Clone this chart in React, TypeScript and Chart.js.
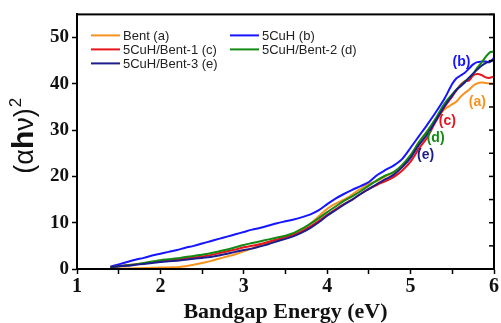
import React, { useEffect, useRef } from "react";
import { Chart, registerables } from "chart.js";

Chart.register(...registerables);

// Photon energy (eV)
const energy = [
  1.4, 1.5, 1.6, 1.7, 1.8, 1.9, 2.0, 2.1, 2.2, 2.3, 2.4, 2.5, 2.6, 2.7, 2.8, 2.9,
  3.0, 3.1, 3.2, 3.3, 3.4, 3.5, 3.6, 3.7, 3.8, 3.9, 4.0, 4.1, 4.2, 4.3, 4.4, 4.5,
  4.6, 4.7, 4.8, 4.9, 5.0, 5.1, 5.2, 5.3, 5.4, 5.5, 5.55, 5.6, 5.65, 5.7, 5.75,
  5.8, 5.85, 5.9, 5.95, 6.0,
];

// (αhν)² values per sample
const bentA = [
  0.1, 0.1, 0.1, 0.15, 0.2, 0.25, 0.3, 0.35, 0.4, 0.6, 0.9, 1.3, 1.7, 2.2, 2.7, 3.2,
  3.8, 4.5, 5.1, 5.6, 6.1, 6.7, 7.6, 8.6, 9.8, 11.4, 13.0, 14.1, 15.0, 16.1, 17.3, 18.4,
  19.0, 20.0, 20.9, 22.4, 24.6, 27.4, 29.8, 32.0, 34.4, 35.6, 36.2, 37.2, 38.0, 38.7, 39.6,
  40.1, 40.3, 40.2, 40.1, 40.0,
];
const cuhB = [
  0.5, 1.0, 1.5, 2.0, 2.4, 2.9, 3.3, 3.7, 4.1, 4.6, 5.0, 5.5, 6.0, 6.5, 7.0, 7.5,
  8.0, 8.5, 8.9, 9.4, 9.9, 10.3, 10.7, 11.2, 11.8, 12.7, 14.0, 15.2, 16.2, 17.1, 17.9, 18.8,
  20.3, 21.4, 22.4, 23.8, 26.2, 28.7, 31.2, 33.8, 36.6, 40.0, 41.2, 41.8, 42.4, 43.3, 44.2,
  44.7, 44.8, 44.8, 44.7, 45.6,
];
const cuhBent1C = [
  0.4, 0.6, 0.8, 1.0, 1.2, 1.5, 1.8, 2.0, 2.1, 2.3, 2.5, 2.7, 3.0, 3.4, 3.8, 4.2,
  4.7, 5.0, 5.4, 5.9, 6.4, 6.9, 7.4, 8.2, 9.2, 10.4, 11.7, 12.9, 14.0, 15.0, 16.2, 17.3,
  18.2, 19.0, 19.9, 21.3, 23.2, 26.0, 28.4, 31.8, 34.8, 37.3, 38.6, 39.8, 40.6, 40.7, 41.8,
  42.1, 41.9, 41.4, 41.3, 41.6,
];
const cuhBent2D = [
  0.4, 0.6, 0.8, 1.0, 1.3, 1.6, 1.9, 2.1, 2.3, 2.6, 2.8, 3.1, 3.4, 3.8, 4.2, 4.7,
  5.2, 5.6, 6.0, 6.4, 6.8, 7.2, 7.8, 8.7, 9.8, 11.0, 12.3, 13.5, 14.7, 15.7, 16.8, 18.0,
  19.2, 20.2, 21.0, 22.5, 24.6, 27.4, 29.8, 32.5, 35.6, 37.8, 38.8, 39.6, 40.5, 41.3, 42.2,
  43.5, 44.6, 45.8, 46.8, 47.0,
];
const cuhBent3E = [
  0.4, 0.6, 0.7, 0.9, 1.1, 1.3, 1.5, 1.7, 1.8, 2.0, 2.2, 2.4, 2.6, 2.9, 3.3, 3.7,
  4.1, 4.4, 4.9, 5.4, 6.0, 6.5, 7.1, 7.9, 8.9, 10.1, 11.5, 12.7, 13.9, 15.0, 16.2, 17.3,
  18.4, 19.4, 20.4, 22.0, 24.0, 26.8, 29.1, 32.0, 35.0, 37.5, 38.7, 39.5, 40.3, 41.3, 42.2,
  43.1, 43.9, 44.5, 44.9, 45.2,
];

const seriesLabels = ["Bent (a)", "5CuH (b)", "5CuH/Bent-1 (c)", "5CuH/Bent-2 (d)", "5CuH/Bent-3 (e)"];
const seriesTags = ["(a)", "(b)", "(c)", "(d)", "(e)"];
const seriesValues = [bentA, cuhB, cuhBent1C, cuhBent2D, cuhBent3E];
const seriesColors = ["#F8921E", "#1515FF", "#E8141C", "#138A13", "#1C1C8C"];
// where each tag text sits, in axis units [energy, value]
const tagAnchors = [
  [5.8, 36.1],
  [5.61, 44.6],
  [5.44, 32.0],
  [5.3, 28.3],
  [5.18, 24.5],
];

const xTitle = "Bandgap Energy (eV)";
// y-axis title pieces: [text, font]
const yTitleParts: [string, string][] = [
  ["(α", "27px 'Liberation Sans', Arial, sans-serif"],
  ["h", "bold 30px 'Liberation Sans', Arial, sans-serif"],
  ["ν)", "27px 'Liberation Sans', Arial, sans-serif"],
];
const yTitleSup = "2";

const framePlugin = {
  id: "frameAndLegend",
  afterDatasetsDraw(chart: any) {
    const { ctx, chartArea } = chart;
    const { left, right, top, bottom } = chartArea;
    const yScale = chart.scales.y;
    ctx.save();
    // tags
    ctx.font = "bold 14px 'Liberation Sans', Arial, sans-serif";
    ctx.textAlign = "center";
    ctx.textBaseline = "middle";
    seriesTags.forEach((t, i) => {
      ctx.fillStyle = seriesColors[i];
      ctx.fillText(
        t,
        chart.scales.x.getPixelForValue(tagAnchors[i][0]),
        yScale.getPixelForValue(tagAnchors[i][1])
      );
    });
    // legend (2 columns)
    ctx.font = "13px 'Liberation Sans', Arial, sans-serif";
    ctx.textAlign = "left";
    ctx.lineWidth = 2;
    const colX = [left + 14, left + 153];
    seriesLabels.forEach((lab, i) => {
      const col = i % 2;
      const row = Math.floor(i / 2);
      const x0 = colX[col];
      const y0 = top + 21 + row * 14;
      ctx.strokeStyle = seriesColors[i];
      ctx.beginPath();
      ctx.moveTo(x0, y0);
      ctx.lineTo(x0 + 29, y0);
      ctx.stroke();
      ctx.fillStyle = "#222";
      ctx.fillText(lab, x0 + 32, y0 + 1);
    });
    // frame
    ctx.strokeStyle = "#000";
    ctx.lineWidth = 2;
    ctx.strokeRect(left, top, right - left, bottom - top);
    // inward ticks on right side
    ctx.lineWidth = 1.5;
    for (let v = 0; v <= 55; v += 5) {
      const y = yScale.getPixelForValue(v);
      ctx.beginPath();
      ctx.moveTo(right, y);
      ctx.lineTo(right - 5, y);
      ctx.stroke();
    }
    // y-axis title (mixed weights), rotated
    const supFont = "17px 'Liberation Sans', Arial, sans-serif";
    let total = 0;
    yTitleParts.forEach(([t, f]) => {
      ctx.font = f;
      total += ctx.measureText(t).width;
    });
    ctx.font = supFont;
    total += ctx.measureText(yTitleSup).width + 1;
    const cy = (top + bottom) / 2 - 6;
    ctx.translate(33, cy);
    ctx.rotate(-Math.PI / 2);
    ctx.fillStyle = "#111";
    ctx.textAlign = "left";
    ctx.textBaseline = "alphabetic";
    let x = -total / 2;
    yTitleParts.forEach(([t, f]) => {
      ctx.font = f;
      ctx.fillText(t, x, 0);
      x += ctx.measureText(t).width;
    });
    ctx.font = supFont;
    ctx.fillText(yTitleSup, x + 1, -12);
    ctx.restore();
  },
};

export default function App() {
  const ref = useRef<HTMLCanvasElement | null>(null);
  useEffect(() => {
    if (!ref.current) return;
    const datasets = seriesValues.map((vals, i) => ({
      label: seriesLabels[i],
      data: energy.map((e, j) => ({ x: e, y: vals[j] })),
      borderColor: seriesColors[i],
      backgroundColor: seriesColors[i],
      borderWidth: 2,
      pointRadius: 0,
      tension: 0.3,
      fill: false,
      order: 5 - i,
    }));
    const chart = new Chart(ref.current, {
      type: "line",
      data: { datasets },
      plugins: [framePlugin],
      options: {
        animation: false,
        responsive: true,
        maintainAspectRatio: false,
        layout: { padding: { top: 13, right: 7, left: 0, bottom: 0 } },
        plugins: { legend: { display: false }, tooltip: { enabled: false } },
        scales: {
          x: {
            type: "linear",
            min: 1,
            max: 6,
            afterFit: (s: any) => {
              s.height = 54;
            },
            border: { display: true, color: "#000", width: 2 },
            grid: { drawOnChartArea: false, color: "#000", tickLength: 5, tickWidth: 1.5 },
            ticks: {
              stepSize: 0.5,
              padding: 1,
              color: "#111",
              font: { family: "'Liberation Serif', 'Times New Roman', serif", size: 20, weight: "bold" },
              callback: (v: any) => (Number.isInteger(v) ? String(v) : ""),
            },
            title: {
              display: true,
              text: xTitle,
              color: "#111",
              padding: 0,
              font: { family: "'Liberation Serif', 'Times New Roman', serif", size: 22, weight: "bold", lineHeight: 1.0 },
            },
          },
          y: {
            type: "linear",
            min: 0,
            max: 55,
            afterFit: (s: any) => {
              s.width = 77;
            },
            border: { display: true, color: "#000", width: 2 },
            grid: { drawOnChartArea: false, color: "#000", tickLength: 5, tickWidth: 1.5 },
            ticks: {
              stepSize: 5,
              padding: 3,
              color: "#111",
              font: { family: "'Liberation Serif', 'Times New Roman', serif", size: 19, weight: "bold" },
              callback: (v: any) => (v % 10 === 0 ? String(v) : ""),
            },
            title: { display: false },
          },
        },
      },
    } as any);
    return () => chart.destroy();
  }, []);
  return (
    <div style={{ position: "absolute", left: 0, top: 0, width: 501, height: 323, background: "#fff" }}>
      <canvas ref={ref} />
    </div>
  );
}
